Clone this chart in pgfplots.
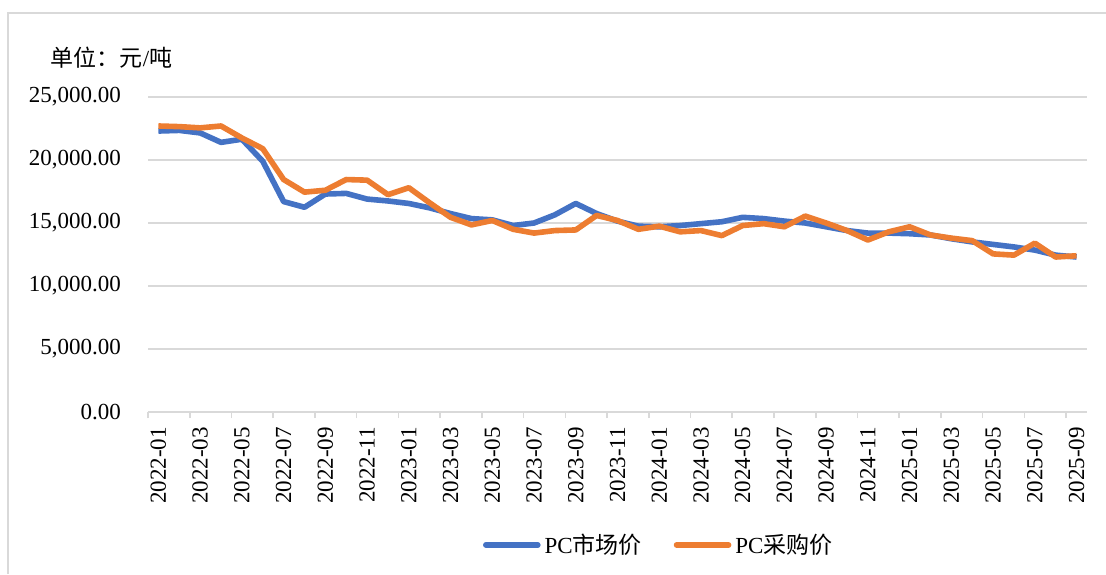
\documentclass[border=0pt]{standalone}
\usepackage{pgfplots}
\pgfplotsset{compat=1.18}
\usepackage{fontspec}
\setmainfont{Liberation Serif}
\newfontfamily\cjk{Noto Sans CJK SC}
\definecolor{cblue}{HTML}{4472C4}
\definecolor{corange}{HTML}{ED7D31}
\definecolor{cgrid}{HTML}{D9D9D9}
\pgfplotstableread{
x y
0 22300
1 22350
2 22150
3 21400
4 21650
5 19900
6 16700
7 16250
8 17300
9 17350
10 16900
11 16750
12 16550
13 16200
14 15750
15 15350
16 15250
17 14800
18 15000
19 15650
20 16550
21 15750
22 15150
23 14750
24 14700
25 14800
26 14950
27 15100
28 15450
29 15350
30 15150
31 15000
32 14700
33 14400
34 14200
35 14200
36 14150
37 14050
38 13750
39 13500
40 13300
41 13100
42 12850
43 12450
44 12300
}\market
\pgfplotstableread{
x y
0 22700
1 22650
2 22550
3 22700
4 21750
5 20900
6 18450
7 17450
8 17600
9 18450
10 18400
11 17250
12 17800
13 16600
14 15450
15 14850
16 15200
17 14500
18 14200
19 14400
20 14450
21 15600
22 15200
23 14500
24 14750
25 14300
26 14400
27 14000
28 14800
29 14950
30 14700
31 15550
32 15000
33 14400
34 13650
35 14300
36 14700
37 14050
38 13800
39 13600
40 12550
41 12450
42 13400
43 12300
44 12400
}\purchase
\begin{document}
\begin{tikzpicture}
\useasboundingbox (0,0) rectangle (553pt,287pt);
\draw[cgrid, line width=0.8pt] (4pt,0) -- (4pt,280.5pt) -- (553pt,280.5pt);
\begin{axis}[
  at={(74pt,81pt)}, anchor=south west,
  scale only axis, width=469.5pt, height=157.5pt,
  xmin=-0.5, xmax=44.5, ymin=0, ymax=25000,
  axis x line*=bottom, axis y line*=left,
  x axis line style={cgrid, line width=0.8pt},
  y axis line style={draw=none},
  ytick={0,5000,...,25000},
  scaled y ticks=false,
  ytick style={draw=none},
  ymajorgrids, grid style={cgrid, line width=0.8pt},
  xtick={0,2,...,44},
  xticklabels={2022-01,2022-03,2022-05,2022-07,2022-09,2022-11,2023-01,2023-03,2023-05,2023-07,2023-09,2023-11,2024-01,2024-03,2024-05,2024-07,2024-09,2024-11,2025-01,2025-03,2025-05,2025-07,2025-09},
  major tick length=0pt,
  extra x ticks={-0.5,1.5,...,43.5},
  extra x tick labels={},
  extra x tick style={major tick length=3pt, tick align=outside, tick style={cgrid, line width=0.8pt}},
  xticklabel style={rotate=90, anchor=east, xshift=-4pt, font=\fontsize{11.5}{13}\selectfont},
  yticklabel style={xshift=-10pt, font=\fontsize{11.5}{13}\selectfont},
  /pgf/number format/.cd, fixed, fixed zerofill, precision=2, 1000 sep={,}, assume math mode=true,
  /pgfplots/.cd,
  legend columns=2,
  legend style={at={(axis description cs:0.545,-0.422)}, anchor=center, draw=none, fill=none,
    font=\fontsize{11.5}{13}\selectfont, /tikz/every even column/.append style={column sep=14pt}},
  legend image code/.code={\draw[#1, line width=2.8pt, line cap=round] (0pt,0pt) -- (26pt,0pt);},
  clip=false,
]
\addplot[cblue, line width=2.8pt, line join=round] table[x=x,y=y] {\market};
\addlegendentry{PC{\cjk 市场价}}
\addplot[corange, line width=2.8pt, line join=round] table[x=x,y=y] {\purchase};
\addlegendentry{PC{\cjk 采购价}}
\node[anchor=west, font=\fontsize{11.5}{13}\selectfont] at (axis description cs:-0.111,1.124) {{\cjk 单位：元}/{\cjk 吨}};
\end{axis}
\end{tikzpicture}
\end{document}
